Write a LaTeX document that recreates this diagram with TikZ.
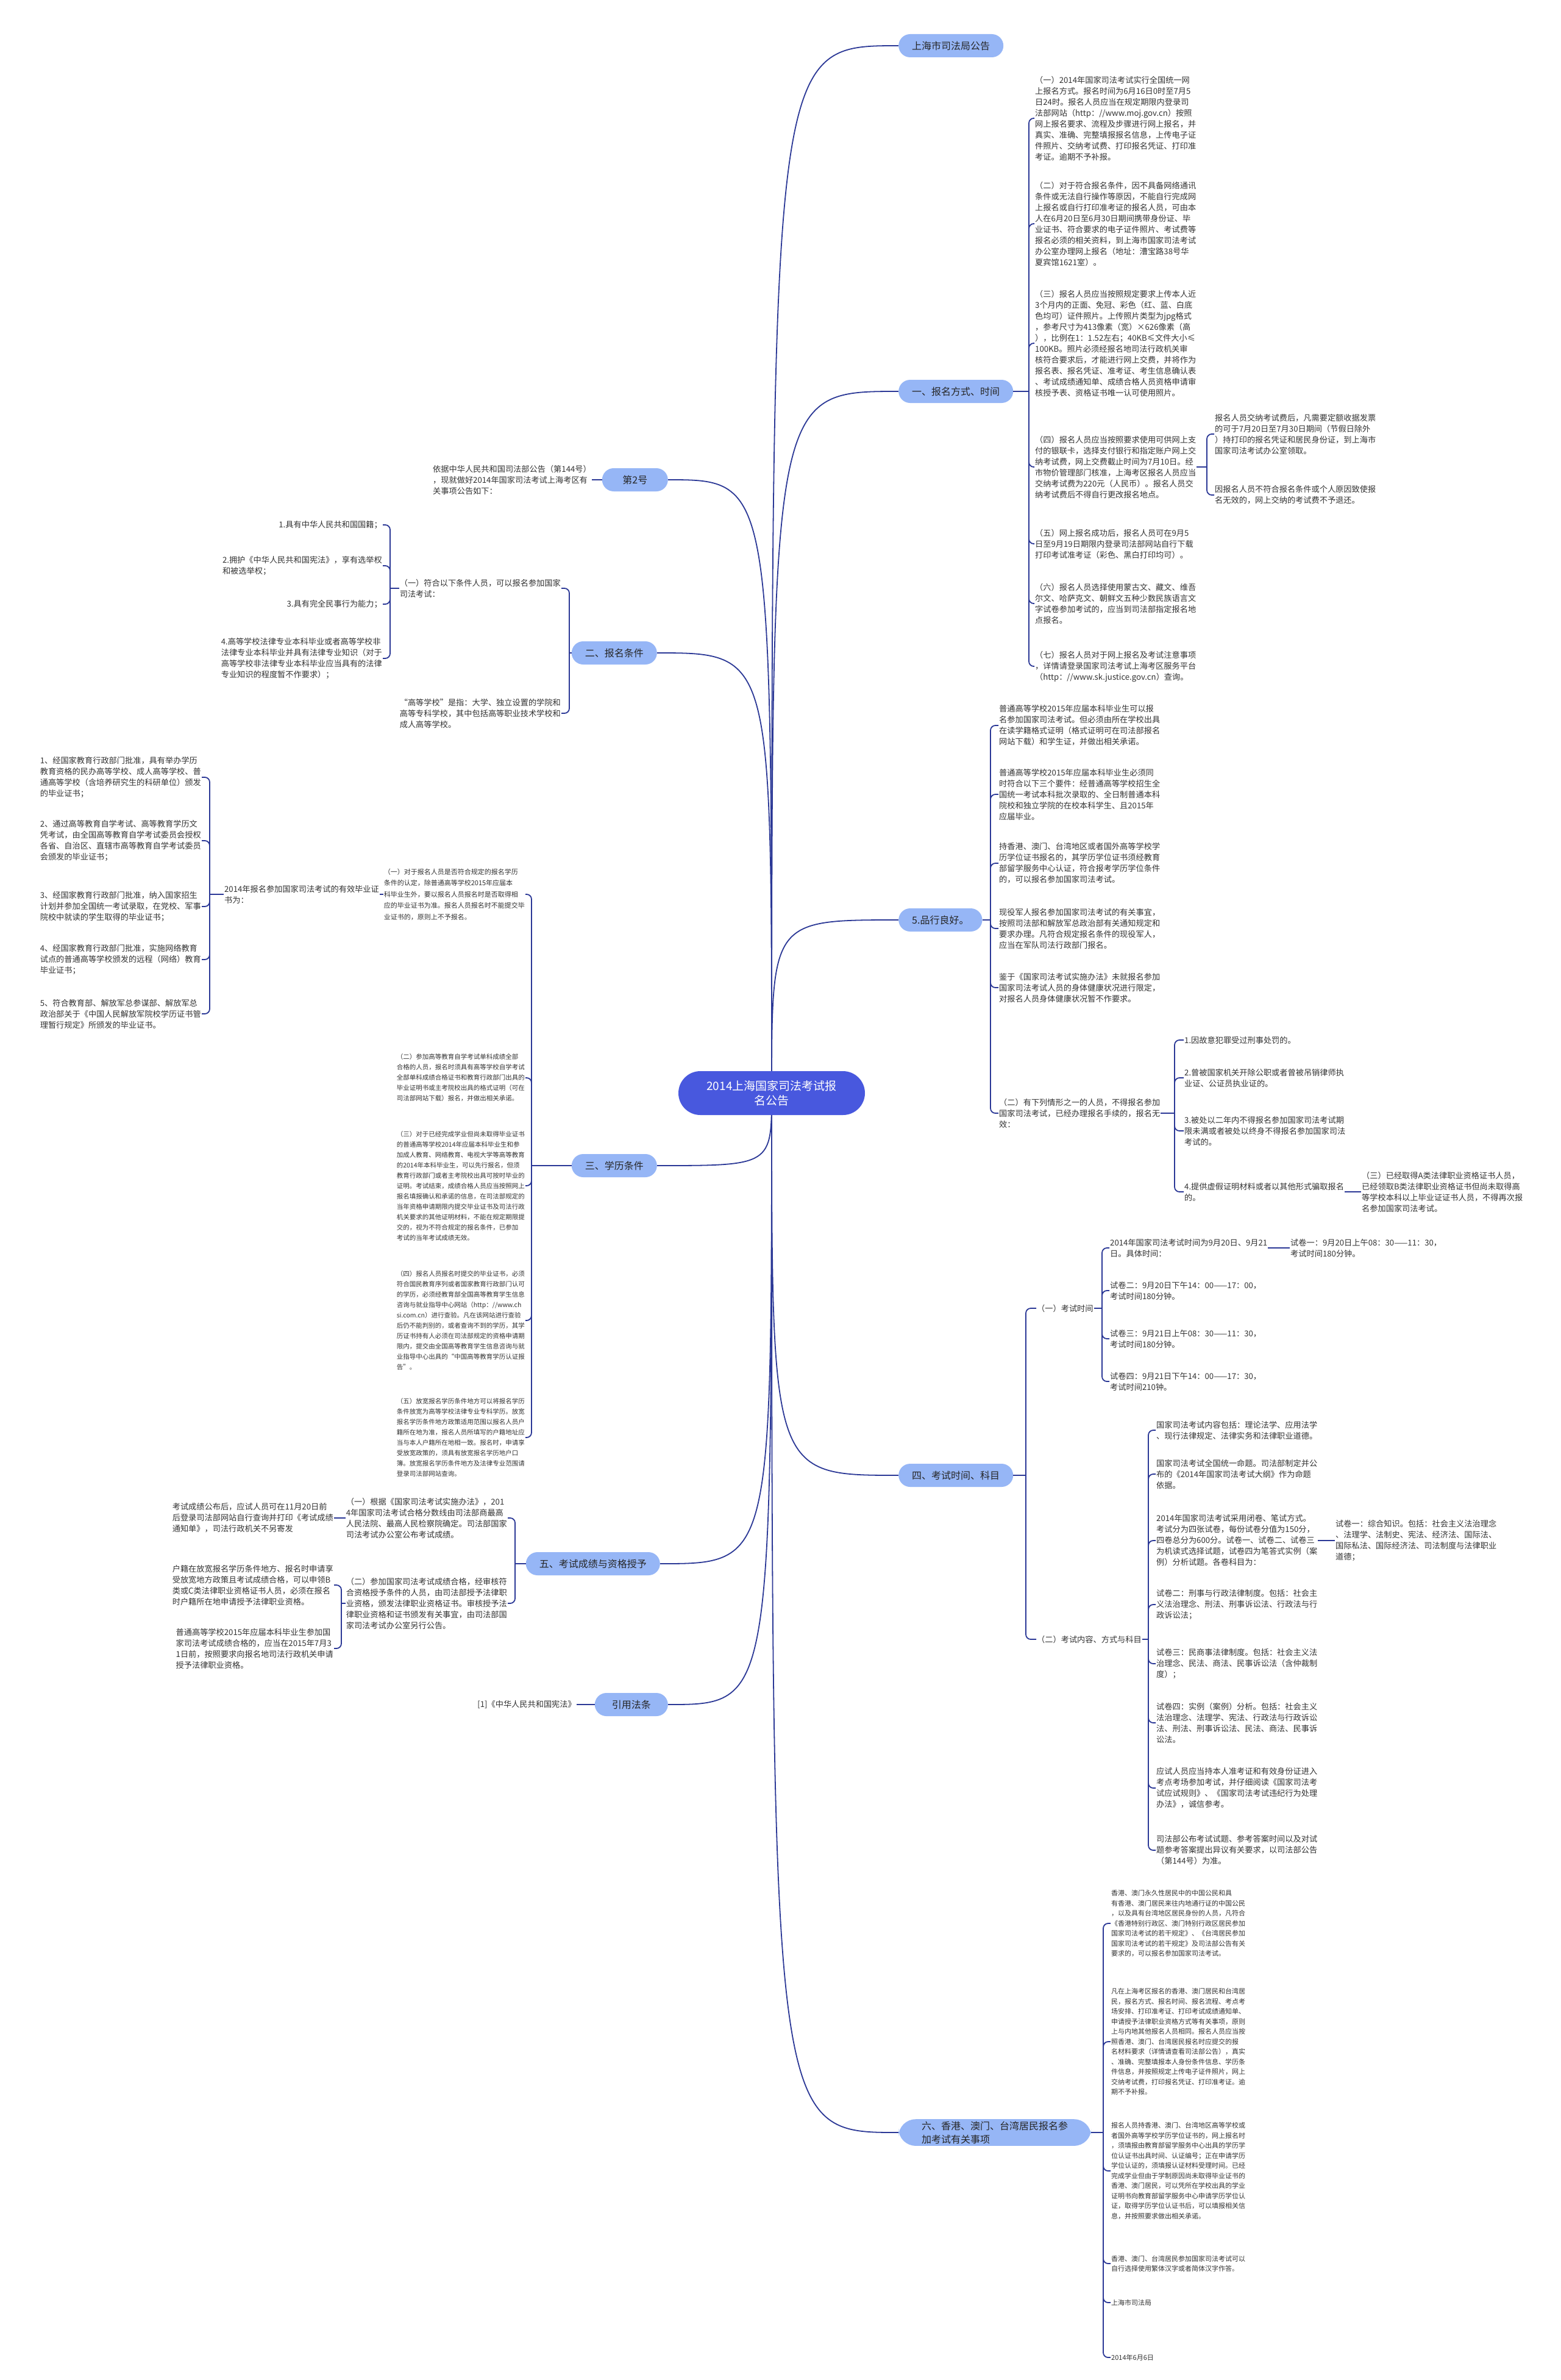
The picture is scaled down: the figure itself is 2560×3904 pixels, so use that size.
\documentclass[tikz,border=0pt]{standalone}
\usepackage{fontspec}
\usepackage{tikz}
\usetikzlibrary{backgrounds}
\newfontfamily\cjk{Noto Sans CJK SC}
\definecolor{rootblue}{RGB}{72,88,222}
\definecolor{branchblue}{RGB}{150,182,246}
\definecolor{linkblue}{RGB}{43,56,150}
\definecolor{leaftext}{RGB}{51,51,51}
\tikzset{
  root/.style={fill=rootblue,text=white,rounded corners=36pt,minimum height=72pt,minimum width=306pt,align=center,font=\cjk\fontsize{19}{24}\selectfont},
  branch/.style={fill=branchblue,text=black!85,rounded corners=19pt,minimum height=38pt,inner xsep=22pt,align=left,font=\cjk\fontsize{16}{22}\selectfont},
  leaf/.style={text=leaftext,align=left,inner sep=1pt,font=\cjk\fontsize{13.2}{18}\selectfont},
  leafsmall/.style={leaf,font=\cjk\fontsize{10.5}{17}\selectfont},
  leafmid/.style={leaf,font=\cjk\fontsize{11}{16.5}\selectfont},
  link/.style={draw=linkblue,line width=1.8pt},
  bracket/.style={link,rounded corners=8pt},
}
\begin{document}
\begin{tikzpicture}[x=1pt,y=-1pt]
\useasboundingbox (0,0) rectangle (2560,3904);
\node (root) at (1266,1793) [root] {2014上海国家司法考试报\\名公告};

\node (notice) at (1474,75) [branch,anchor=west] {上海市司法局公告};
\node (signup) at (1474,642) [branch,anchor=west] {一、报名方式、时间};
\node (conduct) at (1474,1509) [branch,anchor=west] {5.品行良好。};
\node (examtime) at (1474,2420) [branch,anchor=west] {四、考试时间、科目};
\node (hkmt) at (1474,3498) [branch,anchor=west,inner xsep=38pt,rounded corners=28pt] {六、香港、澳门、台湾居民报名参\\加考试有关事项};

\node (no2) at (1096,787) [branch,anchor=east,minimum width=108pt] {第2号};
\node (cond) at (1078,1071) [branch,anchor=east] {二、报名条件};
\node (edu) at (1078,1912) [branch,anchor=east] {三、学历条件};
\node (score) at (1083,2565) [branch,anchor=east] {五、考试成绩与资格授予};
\node (refs) at (1096,2796) [branch,anchor=east,minimum width=120pt] {引用法条};

\node (signup1) at (1697,194) [leaf,anchor=west] {（一）2014年国家司法考试实行全国统一网\\上报名方式。报名时间为6月16日0时至7月5\\日24时。报名人员应当在规定期限内登录司\\法部网站（http：//www.moj.gov.cn）按照\\网上报名要求、流程及步骤进行网上报名，并\\真实、准确、完整填报报名信息，上传电子证\\件照片、交纳考试费、打印报名凭证、打印准\\考证。逾期不予补报。};
\node (signup2) at (1697,367) [leaf,anchor=west] {（二）对于符合报名条件，因不具备网络通讯\\条件或无法自行操作等原因，不能自行完成网\\上报名或自行打印准考证的报名人员，可由本\\人在6月20日至6月30日期间携带身份证、毕\\业证书、符合要求的电子证件照片、考试费等\\报名必须的相关资料，到上海市国家司法考试\\办公室办理网上报名（地址：漕宝路38号华\\夏宾馆1621室）。};
\node (signup3) at (1697,563) [leaf,anchor=west] {（三）报名人员应当按照规定要求上传本人近\\3个月内的正面、免冠、彩色（红、蓝、白底\\色均可）证件照片。上传照片类型为jpg格式\\，参考尺寸为413像素（宽）×626像素（高\\），比例在1：1.52左右；40KB≤文件大小≤\\100KB。照片必须经报名地司法行政机关审\\核符合要求后，才能进行网上交费，并将作为\\报名表、报名凭证、准考证、考生信息确认表\\、考试成绩通知单、成绩合格人员资格申请审\\核授予表、资格证书唯一认可使用照片。};
\node (signup4) at (1697,766) [leaf,anchor=west] {（四）报名人员应当按照要求使用可供网上支\\付的银联卡，选择支付银行和指定账户网上交\\纳考试费，网上交费截止时间为7月10日。经\\市物价管理部门核准，上海考区报名人员应当\\交纳考试费为220元（人民币）。报名人员交\\纳考试费后不得自行更改报名地点。};
\node (signup5) at (1697,892) [leaf,anchor=west] {（五）网上报名成功后，报名人员可在9月5\\日至9月19日期限内登录司法部网站自行下载\\打印考试准考证（彩色、黑白打印均可）。};
\node (signup6) at (1697,990) [leaf,anchor=west] {（六）报名人员选择使用蒙古文、藏文、维吾\\尔文、哈萨克文、朝鲜文五种少数民族语言文\\字试卷参加考试的，应当到司法部指定报名地\\点报名。};
\node (signup7) at (1697,1093) [leaf,anchor=west] {（七）报名人员对于网上报名及考试注意事项\\，详情请登录国家司法考试上海考区服务平台\\（http：//www.sk.justice.gov.cn）查询。};
\node (fee1) at (1992,712) [leaf,anchor=west] {报名人员交纳考试费后，凡需要定额收据发票\\的可于7月20日至7月30日期间（节假日除外\\）持打印的报名凭证和居民身份证，到上海市\\国家司法考试办公室领取。};
\node (fee2) at (1992,812) [leaf,anchor=west] {因报名人员不符合报名条件或个人原因致使报\\名无效的，网上交纳的考试费不予退还。};

\node (conduct1) at (1638,1190) [leaf,anchor=west] {普通高等学校2015年应届本科毕业生可以报\\名参加国家司法考试。但必须由所在学校出具\\在读学籍格式证明（格式证明可在司法部报名\\网站下载）和学生证，并做出相关承诺。};
\node (conduct2) at (1638,1303) [leaf,anchor=west] {普通高等学校2015年应届本科毕业生必须同\\时符合以下三个要件：经普通高等学校招生全\\国统一考试本科批次录取的、全日制普通本科\\院校和独立学院的在校本科学生、且2015年\\应届毕业。};
\node (conduct3) at (1638,1416) [leaf,anchor=west] {持香港、澳门、台湾地区或者国外高等学校学\\历学位证书报名的，其学历学位证书须经教育\\部留学服务中心认证，符合报考学历学位条件\\的，可以报名参加国家司法考试。};
\node (conduct4) at (1638,1523) [leaf,anchor=west] {现役军人报名参加国家司法考试的有关事宜，\\按照司法部和解放军总政治部有关通知规定和\\要求办理。凡符合规定报名条件的现役军人，\\应当在军队司法行政部门报名。};
\node (conduct5) at (1638,1620) [leaf,anchor=west] {鉴于《国家司法考试实施办法》未就报名参加\\国家司法考试人员的身体健康状况进行限定，\\对报名人员身体健康状况暂不作要求。};
\node (conduct6) at (1638,1826) [leaf,anchor=west] {（二）有下列情形之一的人员，不得报名参加\\国家司法考试，已经办理报名手续的，报名无\\效：};
\node (ban1) at (1942,1706) [leaf,anchor=west] {1.因故意犯罪受过刑事处罚的。};
\node (ban2) at (1942,1768) [leaf,anchor=west] {2.曾被国家机关开除公职或者曾被吊销律师执\\业证、公证员执业证的。};
\node (ban3) at (1942,1855) [leaf,anchor=west] {3.被处以二年内不得报名参加国家司法考试期\\限未满或者被处以终身不得报名参加国家司法\\考试的。};
\node (ban4) at (1942,1955) [leaf,anchor=west] {4.提供虚假证明材料或者以其他形式骗取报名\\的。};
\node (ban5) at (2233,1955) [leaf,anchor=west] {（三）已经取得A类法律职业资格证书人员，\\已经领取B类法律职业资格证书但尚未取得高\\等学校本科以上毕业证证书人员，不得再次报\\名参加国家司法考试。};

\node (timing) at (1700,2146) [leaf,anchor=west] {（一）考试时间};
\node (content) at (1700,2689) [leaf,anchor=west] {（二）考试内容、方式与科目};
\node (timing1) at (1820,2047) [leaf,anchor=west] {2014年国家司法考试时间为9月20日、9月21\\日。具体时间：};
\node (paper1) at (2116,2047) [leaf,anchor=west] {试卷一：9月20日上午08：30——11：30，\\考试时间180分钟。};
\node (timing2) at (1820,2117) [leaf,anchor=west] {试卷二：9月20日下午14：00——17：00，\\考试时间180分钟。};
\node (timing3) at (1820,2196) [leaf,anchor=west] {试卷三：9月21日上午08：30——11：30，\\考试时间180分钟。};
\node (timing4) at (1820,2266) [leaf,anchor=west] {试卷四：9月21日下午14：00——17：30，\\考试时间210钟。};
\node (content1) at (1896,2346) [leaf,anchor=west] {国家司法考试内容包括：理论法学、应用法学\\、现行法律规定、法律实务和法律职业道德。};
\node (content2) at (1896,2418) [leaf,anchor=west] {国家司法考试全国统一命题。司法部制定并公\\布的《2014年国家司法考试大纲》作为命题\\依据。};
\node (content3) at (1896,2527) [leaf,anchor=west] {2014年国家司法考试采用闭卷、笔试方式。\\考试分为四张试卷，每份试卷分值为150分，\\四卷总分为600分。试卷一、试卷二、试卷三\\为机读式选择试题，试卷四为笔答式实例（案\\例）分析试题。各卷科目为：};
\node (subject1) at (2190,2527) [leaf,anchor=west] {试卷一：综合知识。包括：社会主义法治理念\\、法理学、法制史、宪法、经济法、国际法、\\国际私法、国际经济法、司法制度与法律职业\\道德；};
\node (content4) at (1896,2632) [leaf,anchor=west] {试卷二：刑事与行政法律制度。包括：社会主\\义法治理念、刑法、刑事诉讼法、行政法与行\\政诉讼法；};
\node (content5) at (1896,2729) [leaf,anchor=west] {试卷三：民商事法律制度。包括：社会主义法\\治理念、民法、商法、民事诉讼法（含仲裁制\\度）；};
\node (content6) at (1896,2826) [leaf,anchor=west] {试卷四：实例（案例）分析。包括：社会主义\\法治理念、法理学、宪法、行政法与行政诉讼\\法、刑法、刑事诉讼法、民法、商法、民事诉\\讼法。};
\node (content7) at (1896,2933) [leaf,anchor=west] {应试人员应当持本人准考证和有效身份证进入\\考点考场参加考试，并仔细阅读《国家司法考\\试应试规则》、《国家司法考试违纪行为处理\\办法》，诚信参考。};
\node (content8) at (1896,3035) [leaf,anchor=west] {司法部公布考试试题、参考答案时间以及对试\\题参考答案提出异议有关要求，以司法部公告\\（第144号）为准。};

\node (hkmt1) at (1822,3155) [leafmid,anchor=west] {香港、澳门永久性居民中的中国公民和具\\有香港、澳门居民来往内地通行证的中国公民\\，以及具有台湾地区居民身份的人员，凡符合\\《香港特别行政区、澳门特别行政区居民参加\\国家司法考试的若干规定》、《台湾居民参加\\国家司法考试的若干规定》及司法部公告有关\\要求的，可以报名参加国家司法考试。};
\node (hkmt2) at (1822,3349) [leafmid,anchor=west] {凡在上海考区报名的香港、澳门居民和台湾居\\民，报名方式、报名时间、报名流程、考点考\\场安排、打印准考证、打印考试成绩通知单、\\申请授予法律职业资格方式等有关事项，原则\\上与内地其他报名人员相同。报名人员应当按\\照香港、澳门、台湾居民报名时应提交的报\\名材料要求（详情请查看司法部公告），真实\\、准确、完整填报本人身份条件信息、学历条\\件信息，并按照规定上传电子证件照片，网上\\交纳考试费，打印报名凭证、打印准考证。逾\\期不予补报。};
\node (hkmt3) at (1822,3561) [leafmid,anchor=west] {报名人员持香港、澳门、台湾地区高等学校或\\者国外高等学校学历学位证书的，网上报名时\\，须填报由教育部留学服务中心出具的学历学\\位认证书出具时间、认证编号；正在申请学历\\学位认证的，须填报认证材料受理时间。已经\\完成学业但由于学制原因尚未取得毕业证书的\\香港、澳门居民，可以凭所在学校出具的学业\\证明书向教育部留学服务中心申请学历学位认\\证，取得学历学位认证书后，可以填报相关信\\息，并按照要求做出相关承诺。};
\node (hkmt4) at (1822,3713) [leafmid,anchor=west] {香港、澳门、台湾居民参加国家司法考试可以\\自行选择使用繁体汉字或者简体汉字作答。};
\node (hkmt5) at (1822,3777) [leafmid,anchor=west] {上海市司法局};
\node (hkmt6) at (1822,3867) [leafmid,anchor=west] {2014年6月6日};

\node (basis) at (971,787) [leaf,anchor=east] {依据中华人民共和国司法部公告（第144号）\\，现就做好2014年国家司法考试上海考区有\\关事项公告如下：};
\node (cond1) at (921,965) [leaf,anchor=east] {（一）符合以下条件人员，可以报名参加国家\\司法考试：};
\node (cond2) at (921,1170) [leaf,anchor=east] {“高等学校”是指：大学、独立设置的学院和\\高等专科学校，其中包括高等职业技术学校和\\成人高等学校。};
\node (req1) at (628,861) [leaf,anchor=east] {1.具有中华人民共和国国籍；};
\node (req2) at (628,928) [leaf,anchor=east] {2.拥护《中华人民共和国宪法》，享有选举权\\和被选举权；};
\node (req3) at (628,991) [leaf,anchor=east] {3.具有完全民事行为能力；};
\node (req4) at (628,1080) [leaf,anchor=east] {4.高等学校法律专业本科毕业或者高等学校非\\法律专业本科毕业并具有法律专业知识（对于\\高等学校非法律专业本科毕业应当具有的法律\\专业知识的程度暂不作要求）；};

\node (edu1) at (862,1467) [leaf,anchor=east,font=\cjk\fontsize{11}{18.5}\selectfont] {（一）对于报名人员是否符合规定的报名学历\\条件的认定，除普通高等学校2015年应届本\\科毕业生外，要以报名人员报名时是否取得相\\应的毕业证书为准。报名人员报名时不能提交毕\\业证书的，原则上不予报名。};
\node (cert) at (623,1467) [leaf,anchor=east] {2014年报名参加国家司法考试的有效毕业证\\书为：};
\node (cert1) at (331,1275) [leaf,anchor=east] {1、经国家教育行政部门批准，具有举办学历\\教育资格的民办高等学校、成人高等学校、普\\通高等学校（含培养研究生的科研单位）颁发\\的毕业证书；};
\node (cert2) at (331,1379) [leaf,anchor=east] {2、通过高等教育自学考试、高等教育学历文\\凭考试，由全国高等教育自学考试委员会授权\\各省、自治区、直辖市高等教育自学考试委员\\会颁发的毕业证书；};
\node (cert3) at (331,1487) [leaf,anchor=east] {3、经国家教育行政部门批准，纳入国家招生\\计划并参加全国统一考试录取，在党校、军事\\院校中就读的学生取得的毕业证书；};
\node (cert4) at (331,1574) [leaf,anchor=east] {4、经国家教育行政部门批准，实施网络教育\\试点的普通高等学校颁发的远程（网络）教育\\毕业证书；};
\node (cert5) at (331,1663) [leaf,anchor=east] {5、符合教育部、解放军总参谋部、解放军总\\政治部关于《中国人民解放军院校学历证书管\\理暂行规定》所颁发的毕业证书。};
\node (edu2) at (862,1768) [leafsmall,anchor=east] {（二）参加高等教育自学考试单科成绩全部\\合格的人员，报名时须具有高等学校自学考试\\全部单科成绩合格证书和教育行政部门出具的\\毕业证明书或主考院校出具的格式证明（可在\\司法部网站下载）报名，并做出相关承诺。};
\node (edu3) at (862,1945) [leafsmall,anchor=east] {（三）对于已经完成学业但尚未取得毕业证书\\的普通高等学校2014年应届本科毕业生和参\\加成人教育、网络教育、电视大学等高等教育\\的2014年本科毕业生，可以先行报名，但须\\教育行政部门或者主考院校出具可按时毕业的\\证明。考试结束，成绩合格人员应当按照网上\\报名填报确认和承诺的信息，在司法部规定的\\当年资格申请期限内提交毕业证书及司法行政\\机关要求的其他证明材料，不能在规定期限提\\交的，视为不符合规定的报名条件，已参加\\考试的当年考试成绩无效。};
\node (edu4) at (862,2166) [leafsmall,anchor=east] {（四）报名人员报名时提交的毕业证书，必须\\符合国民教育序列或者国家教育行政部门认可\\的学历，必须经教育部全国高等教育学生信息\\咨询与就业指导中心网站（http：//www.ch\\si.com.cn）进行查验。凡在该网站进行查验\\后仍不能判别的，或者查询不到的学历，其学\\历证书持有人必须在司法部规定的资格申请期\\限内，提交由全国高等教育学生信息咨询与就\\业指导中心出具的“中国高等教育学历认证报\\告”。};
\node (edu5) at (862,2358) [leafsmall,anchor=east] {（五）放宽报名学历条件地方可以将报名学历\\条件放宽为高等学校法律专业专科学历。放宽\\报名学历条件地方政策适用范围以报名人员户\\籍所在地为准，报名人员所填写的户籍地址应\\当与本人户籍所在地相一致。报名时，申请享\\受放宽政策的，须具有放宽报名学历地户口\\簿。放宽报名学历条件地方及法律专业范围请\\登录司法部网站查询。};

\node (score1) at (833,2490) [leaf,anchor=east] {（一）根据《国家司法考试实施办法》，201\\4年国家司法考试合格分数线由司法部商最高\\人民法院、最高人民检察院确定。司法部国家\\司法考试办公室公布考试成绩。};
\node (score2) at (833,2630) [leaf,anchor=east] {（二）参加国家司法考试成绩合格，经审核符\\合资格授予条件的人员，由司法部授予法律职\\业资格，颁发法律职业资格证书。审核授予法\\律职业资格和证书颁发有关事宜，由司法部国\\家司法考试办公室另行公告。};
\node (notice1) at (548,2490) [leaf,anchor=east] {考试成绩公布后，应试人员可在11月20日前\\后登录司法部网站自行查询并打印《考试成绩\\通知单》，司法行政机关不另寄发};
\node (grant1) at (548,2600) [leaf,anchor=east] {户籍在放宽报名学历条件地方、报名时申请享\\受放宽地方政策且考试成绩合格，可以申领B\\类或C类法律职业资格证书人员，必须在报名\\时户籍所在地申请授予法律职业资格。};
\node (grant2) at (548,2704) [leaf,anchor=east] {普通高等学校2015年应届本科毕业生参加国\\家司法考试成绩合格的，应当在2015年7月3\\1日前，按照要求向报名地司法行政机关申请\\授予法律职业资格。};
\node (ref1) at (946,2796) [leaf,anchor=east] {[1]《中华人民共和国宪法》};

\begin{scope}[on background layer]
\fill[white] (0,0) rectangle (2560,3904);
\foreach \b in {notice,signup,conduct,examtime,hkmt}
  \draw[link] (root.center) .. controls (root.center |- \b.west) .. (\b.west);
\foreach \b in {no2,cond,edu,score,refs}
  \draw[link] (root.center) .. controls (root.center |- \b.east) .. (\b.east);
\end{scope}

\coordinate (signupfork) at (1688,642);
\draw[link] (signup.east) -- (signupfork);
\foreach \i in {1,...,7}
  \draw[bracket] (signupfork) |- (signup\i.west);
\coordinate (feefork) at (1980,766);
\draw[link] (signup4.east) -- (feefork);
\foreach \i in {1,2}
  \draw[bracket] (feefork) |- (fee\i.west);

\coordinate (conductfork) at (1625,1509);
\draw[link] (conduct.east) -- (conductfork);
\foreach \i in {1,...,6}
  \draw[bracket] (conductfork) |- (conduct\i.west);
\coordinate (banfork) at (1927,1826);
\draw[link] (conduct6.east) -- (banfork);
\foreach \i in {1,...,4}
  \draw[bracket] (banfork) |- (ban\i.west);
\draw[link] (ban4.east) -- (ban5.west);

\coordinate (examfork) at (1683,2420);
\draw[link] (examtime.east) -- (examfork);
\draw[bracket] (examfork) |- (timing.west);
\draw[bracket] (examfork) |- (content.west);
\coordinate (timingfork) at (1808,2146);
\draw[link] (timing.east) -- (timingfork);
\foreach \i in {1,...,4}
  \draw[bracket] (timingfork) |- (timing\i.west);
\draw[link] (timing1.east) -- (paper1.west);
\coordinate (contentfork) at (1884,2689);
\draw[link] (content.east) -- (contentfork);
\foreach \i in {1,...,8}
  \draw[bracket] (contentfork) |- (content\i.west);
\draw[link] (content3.east) -- (subject1.west);

\coordinate (hkmtfork) at (1810,3498);
\draw[link] (hkmt.east) -- (hkmtfork);
\foreach \i in {1,...,6}
  \draw[bracket] (hkmtfork) |- (hkmt\i.west);

\draw[link] (no2.west) -- (basis.east);
\coordinate (condfork) at (934,1071);
\draw[link] (cond.west) -- (condfork);
\foreach \i in {1,2}
  \draw[bracket] (condfork) |- (cond\i.east);
\coordinate (reqfork) at (640,965);
\draw[link] (cond1.west) -- (reqfork);
\foreach \i in {1,...,4}
  \draw[bracket] (reqfork) |- (req\i.east);

\coordinate (edufork) at (872,1912);
\draw[link] (edu.west) -- (edufork);
\foreach \i in {1,...,5}
  \draw[bracket] (edufork) |- (edu\i.east);
\draw[link] (edu1.west) -- (cert.east);
\coordinate (certfork) at (344,1467);
\draw[link] (cert.west) -- (certfork);
\foreach \i in {1,...,5}
  \draw[bracket] (certfork) |- (cert\i.east);

\coordinate (scorefork) at (845,2565);
\draw[link] (score.west) -- (scorefork);
\foreach \i in {1,2}
  \draw[bracket] (scorefork) |- (score\i.east);
\draw[link] (score1.west) -- (notice1.east);
\coordinate (grantfork) at (560,2630);
\draw[link] (score2.west) -- (grantfork);
\foreach \i in {1,2}
  \draw[bracket] (grantfork) |- (grant\i.east);
\draw[link] (refs.west) -- (ref1.east);
\end{tikzpicture}
\end{document}
